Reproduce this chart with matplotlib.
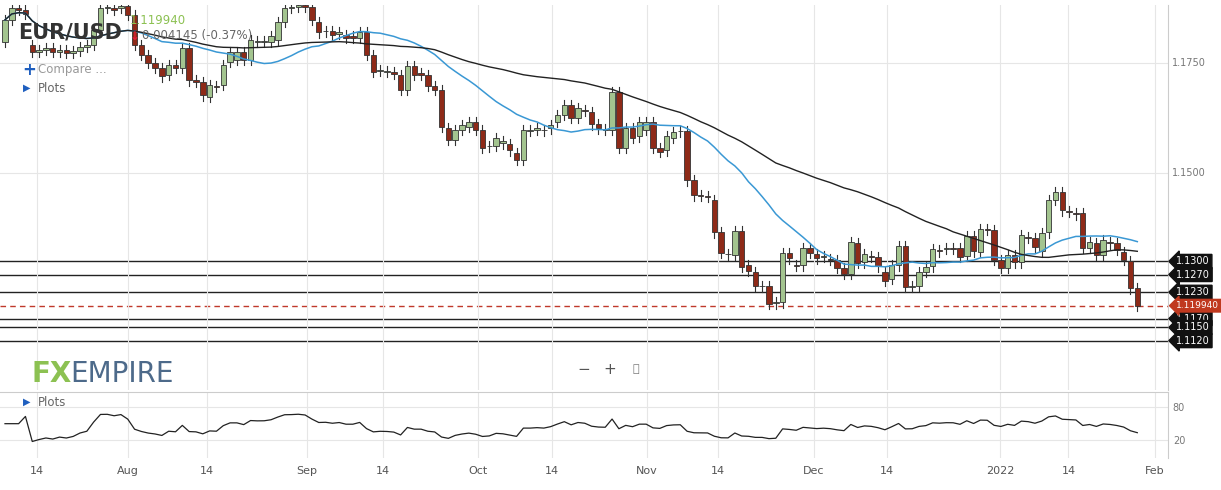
import numpy as np
import pandas as pd
import matplotlib.pyplot as plt
from matplotlib.patches import Rectangle

# daily EUR/USD candles (open / close)
opens = [1.1798, 1.1848, 1.1875, 1.1870, 1.1791, 1.1775, 1.1780, 1.1784, 1.1775, 1.1780,
         1.1773, 1.1777, 1.1786, 1.1791, 1.1825, 1.1875, 1.1875, 1.1875, 1.1879, 1.1859,
         1.1791, 1.1768, 1.1750, 1.1739, 1.1723, 1.1745, 1.1739, 1.1784, 1.1711, 1.1707,
         1.1673, 1.1698, 1.1700, 1.1752, 1.1757, 1.1775, 1.1757, 1.1798, 1.1798, 1.1798,
         1.1802, 1.1843, 1.1875, 1.1877, 1.1882, 1.1877, 1.1843, 1.1823, 1.1823, 1.1816,
         1.1814, 1.1811, 1.1807, 1.1820, 1.1768, 1.1732, 1.1730, 1.1730, 1.1723, 1.1689,
         1.1743, 1.1727, 1.1723, 1.1698, 1.1689, 1.1602, 1.1575, 1.1598, 1.1605, 1.1616,
         1.1598, 1.1562, 1.1562, 1.1568, 1.1566, 1.1546, 1.1530, 1.1596, 1.1598, 1.1598,
         1.1602, 1.1616, 1.1632, 1.1655, 1.1625, 1.1643, 1.1639, 1.1611, 1.1598, 1.1598,
         1.1684, 1.1557, 1.1602, 1.1584, 1.1598, 1.1616, 1.1557, 1.1552, 1.1580, 1.1596,
         1.1596, 1.1484, 1.1450, 1.1448, 1.1439, 1.1366, 1.1317, 1.1314, 1.1369, 1.1291,
         1.1276, 1.1244, 1.1244, 1.1205, 1.1207, 1.1319, 1.1291, 1.1291, 1.1330, 1.1317,
         1.1310, 1.1305, 1.1303, 1.1285, 1.1271, 1.1341, 1.1298, 1.1312, 1.1310, 1.1276,
         1.1260, 1.1291, 1.1335, 1.1242, 1.1244, 1.1276, 1.1289, 1.1326, 1.1328, 1.1330,
         1.1330, 1.1312, 1.1357, 1.1321, 1.1373, 1.1371, 1.1303, 1.1285, 1.1314, 1.1298,
         1.1355, 1.1353, 1.1323, 1.1366, 1.1439, 1.1457, 1.1414, 1.1409, 1.1409, 1.1330,
         1.1341, 1.1314, 1.1344, 1.1341, 1.1321, 1.1301, 1.1239]
closes = [1.1848, 1.1875, 1.1870, 1.1861, 1.1775, 1.1780, 1.1784, 1.1775, 1.1780, 1.1773,
          1.1777, 1.1786, 1.1791, 1.1825, 1.1875, 1.1876, 1.1870, 1.1879, 1.1859, 1.1791,
          1.1768, 1.1750, 1.1739, 1.1720, 1.1745, 1.1739, 1.1784, 1.1711, 1.1707, 1.1677,
          1.1700, 1.1696, 1.1745, 1.1775, 1.1775, 1.1757, 1.1802, 1.1799, 1.1800, 1.1811,
          1.1843, 1.1875, 1.1877, 1.1882, 1.1877, 1.1848, 1.1820, 1.1822, 1.1814, 1.1820,
          1.1807, 1.1807, 1.1820, 1.1768, 1.1730, 1.1734, 1.1732, 1.1725, 1.1689, 1.1743,
          1.1723, 1.1723, 1.1698, 1.1689, 1.1605, 1.1575, 1.1598, 1.1609, 1.1616, 1.1598,
          1.1557, 1.1561, 1.1580, 1.1573, 1.1552, 1.1530, 1.1598, 1.1598, 1.1602, 1.1597,
          1.1609, 1.1632, 1.1655, 1.1625, 1.1648, 1.1641, 1.1611, 1.1602, 1.1600, 1.1684,
          1.1557, 1.1602, 1.1580, 1.1616, 1.1616, 1.1557, 1.1548, 1.1584, 1.1593, 1.1595,
          1.1484, 1.1450, 1.1449, 1.1446, 1.1366, 1.1319, 1.1316, 1.1369, 1.1287, 1.1278,
          1.1244, 1.1243, 1.1203, 1.1207, 1.1319, 1.1307, 1.1290, 1.1330, 1.1319, 1.1307,
          1.1312, 1.1304, 1.1285, 1.1271, 1.1344, 1.1296, 1.1317, 1.1310, 1.1289, 1.1255,
          1.1291, 1.1335, 1.1242, 1.1244, 1.1276, 1.1287, 1.1328, 1.1323, 1.1330, 1.1329,
          1.1310, 1.1357, 1.1323, 1.1373, 1.1371, 1.1303, 1.1285, 1.1314, 1.1298, 1.1360,
          1.1353, 1.1332, 1.1364, 1.1439, 1.1457, 1.1416, 1.1412, 1.1407, 1.1330, 1.1344,
          1.1314, 1.1348, 1.1341, 1.1326, 1.1303, 1.1239, 1.1199]

date_labels = ["14", "Aug", "14", "Sep", "14", "Oct", "14", "Nov", "14", "Dec", "14", "2022", "14", "Feb"]
date_pos = [4.7, 18.0, 29.6, 44.3, 55.4, 69.4, 80.2, 94.1, 104.5, 118.6, 129.3, 145.9, 155.9, 168.6]

levels = [1.1300, 1.1270, 1.1230, 1.1170, 1.1150, 1.1120]
last_price = 1.119940

GREEN = "#a3c48f"
RED = "#8e2a18"
EDGE = "#333333"
WICK = 0.0012

c = pd.Series(closes)
ma_fast = c.rolling(20, min_periods=1).mean()
ma_slow = c.rolling(50, min_periods=1).mean()
delta = c.diff().fillna(0)
up = delta.clip(lower=0).ewm(alpha=1 / 14, adjust=True).mean()
dn = (-delta.clip(upper=0)).ewm(alpha=1 / 14, adjust=True).mean()
rsi = (100 * up / (up + dn)).fillna(50)
rsi.iloc[:3] = 50

fig = plt.figure(figsize=(12.21, 4.9), dpi=100)
ax = fig.add_axes([0, 0.204, 1168 / 1221, 0.786])
ax2 = fig.add_axes([0, 0.065, 1168 / 1221, 0.135])

x = np.arange(len(closes))
xlim = (-0.73, 170.5)

for i in x:
    o, cl = opens[i], closes[i]
    lo, hi = min(o, cl), max(o, cl)
    col = GREEN if cl >= o else RED
    ax.plot([i, i], [lo - WICK, hi + WICK], color=EDGE, lw=0.8, zorder=2)
    h = max(hi - lo, 0.00012)
    ax.add_patch(Rectangle((i - 0.4, lo), 0.8, h, facecolor=col, edgecolor=EDGE, lw=0.6, zorder=3))

ax.plot(x, ma_fast, color="#3a98d4", lw=1.1, zorder=4)
ax.plot(x, ma_slow, color="#222222", lw=1.0, zorder=4)

for lv in levels:
    ax.axhline(lv, color="#222222", lw=1.0, zorder=1)
ax.axhline(last_price, color="#c0392b", lw=1.0, ls=(0, (4, 3)), zorder=1)

ax.set_xlim(*xlim)
ax.set_ylim(1.1008, 1.1882)
ax.set_yticks([1.15, 1.175])
ax.grid(True, color="#e6e6e6", lw=0.8, zorder=0)
ax.set_xticks(date_pos)
ax.tick_params(axis="x", length=0, labelbottom=False)
ax.tick_params(axis="y", length=0, labelleft=False)
for s in ax.spines.values():
    s.set_visible(False)
ax.spines["right"].set_visible(True)
ax.spines["right"].set_color("#cccccc")

# price labels on the right axis
for yv in [1.175, 1.15]:
    ax.text(1.003, yv, f"{yv:.4f}", transform=ax.get_yaxis_transform(), fontsize=7,
            color="#777777", va="center", ha="left")
for lv in levels:
    ax.annotate(f"{lv:.4f}", xy=(1.0, lv), xycoords=("axes fraction", "data"),
                xytext=(6, 0), textcoords="offset points", fontsize=7, color="white",
                va="center", ha="left", annotation_clip=False,
                bbox=dict(boxstyle="larrow,pad=0.2", fc="#111111", ec="#111111"))
ax.annotate(f"{last_price:.6f}", xy=(1.0, last_price), xycoords=("axes fraction", "data"),
            xytext=(6, 0), textcoords="offset points", fontsize=6.5, color="white",
            va="center", ha="left", annotation_clip=False,
            bbox=dict(boxstyle="larrow,pad=0.2", fc="#c0391f", ec="#c0391f"))

# header
fig.text(18 / 1221, 1 - 32 / 490, "EUR/USD", fontsize=15, fontweight="bold", color="#333333", va="center")
fig.text(130 / 1221, 1 - 20 / 490, "1.119940", fontsize=8.5, color="#8cc152", va="center")
fig.text(130 / 1221, 1 - 36 / 490, "\u2193", fontsize=8.5, color="#e0203a", va="center", fontweight="bold")
fig.text(142 / 1221, 1 - 36 / 490, "0.004145 (-0.37%)", fontsize=8.5, color="#666666", va="center")
fig.text(22 / 1221, 1 - 70 / 490, "+", fontsize=12, color="#1f5fbf", va="center", fontweight="bold")
fig.text(38 / 1221, 1 - 70 / 490, "Compare ...", fontsize=8.5, color="#999999", va="center")
fig.text(23 / 1221, 1 - 88 / 490, "\u25B6", fontsize=7, color="#1f5fbf", va="center")
fig.text(38 / 1221, 1 - 88 / 490, "Plots", fontsize=8.5, color="#666666", va="center")

# logo
fig.text(32 / 1221, 1 - 374 / 490, "FX", fontsize=20, color="#8cc152", va="center", fontweight="bold")
fig.text(70 / 1221, 1 - 374 / 490, "EMPIRE", fontsize=20, color="#4d6a8a", va="center")

# zoom controls
fig.text(584 / 1221, 1 - 369 / 490, "\u2212", fontsize=11, color="#555555", va="center", ha="center")
fig.text(610 / 1221, 1 - 369 / 490, "+", fontsize=11, color="#555555", va="center", ha="center")
fig.text(636 / 1221, 1 - 369 / 490, "\u26F6", fontsize=8, color="#777777", va="center", ha="center")

# RSI panel
ax2.plot(x, rsi, color="#222222", lw=0.9)
ax2.set_xlim(*xlim)
ax2.set_ylim(-12, 107)
ax2.set_yticks([20, 80])
ax2.set_xticks(date_pos)
ax2.set_xticklabels(date_labels, fontsize=8, color="#555555")
ax2.tick_params(axis="x", length=0, pad=6)
ax2.tick_params(axis="y", length=0, labelleft=False, labelright=True, labelsize=7, labelcolor="#777777")
ax2.grid(True, color="#e6e6e6", lw=0.8)
for s in ax2.spines.values():
    s.set_visible(False)
ax2.spines["right"].set_visible(True)
ax2.spines["right"].set_color("#cccccc")
ax2.spines["top"].set_visible(True)
ax2.spines["top"].set_color("#cccccc")
fig.text(23 / 1221, 1 - 402 / 490, "\u25B6", fontsize=7, color="#1f5fbf", va="center")
fig.text(38 / 1221, 1 - 402 / 490, "Plots", fontsize=8.5, color="#666666", va="center")

fig.savefig("out.png", dpi=100)
